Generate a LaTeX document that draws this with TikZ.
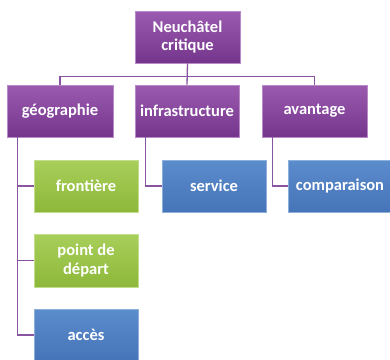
\documentclass[tikz,border=0pt]{standalone}
\usepackage{fontspec}
\setmainfont{Carlito}
\usetikzlibrary{shadows}
\definecolor{purpD}{HTML}{74368C}
\definecolor{purpL}{HTML}{9A5AB0}
\definecolor{grnD}{HTML}{8DB83A}
\definecolor{grnL}{HTML}{A8CF5A}
\definecolor{bluD}{HTML}{4674B8}
\definecolor{bluL}{HTML}{5B8CCC}
\definecolor{lineC}{HTML}{8A55A0}
\tikzset{
  box/.style={rectangle, minimum width=104pt, minimum height=52pt, inner sep=1pt,
    text=white, font=\fontsize{16.5}{18.5}\selectfont\bfseries, align=center,
    drop shadow={shadow xshift=1.2pt, shadow yshift=-1.2pt, opacity=0.35, fill=black!60}},
  pbox/.style={box, top color=purpL, bottom color=purpD, draw=purpL!70!white, line width=0.6pt},
  gbox/.style={box, top color=grnL, bottom color=grnD, draw=grnL!70!white, line width=0.6pt},
  bbox/.style={box, top color=bluL, bottom color=bluD, draw=bluL!70!white, line width=0.6pt},
  conn/.style={draw=lineC, line width=1.3pt}
}
\begin{document}
\begin{tikzpicture}[x=1pt,y=-1pt]
\useasboundingbox (0,0) rectangle (390,359);
\node[pbox, minimum width=105pt] (top) at (187.5,37) {Neuchâtel\\critique};
\node[pbox, minimum width=106pt] (geo) at (60,111) {géographie};
\node[pbox] (infra) at (187,111) {infrastructure};
\node[pbox, minimum width=105pt] (avant) at (314.5,111) {avantage};
\node[gbox] (front) at (86,186) {frontière};
\node[bbox] (serv) at (214,186) {service};
\node[bbox] (comp) at (340,186) {comparaison};
\node[gbox, minimum height=53pt] (point) at (86,260.5) {point de\\départ};
\node[bbox] (acces) at (86,335) {accès};
\draw[conn] (top.south) -- (infra.north);
\draw[conn] (geo.north) -- ++(0,-8) -| (avant.north);
\draw[conn] ([xshift=11pt]geo.south west) |- (front.west);
\draw[conn] ([xshift=11pt]geo.south west) |- (point.west);
\draw[conn] ([xshift=11pt]geo.south west) |- (acces.west);
\draw[conn] ([xshift=11pt]infra.south west) |- (serv.west);
\draw[conn] ([xshift=11pt]avant.south west) |- (comp.west);
\end{tikzpicture}
\end{document}
